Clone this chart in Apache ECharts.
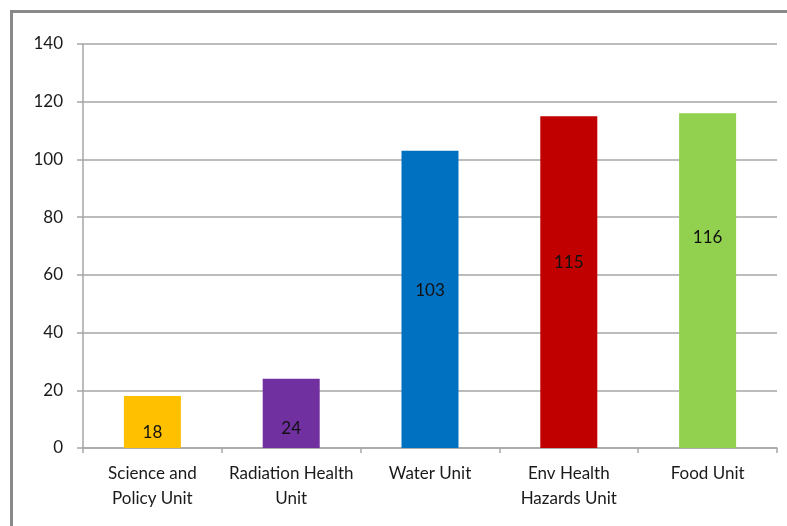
<!DOCTYPE html>
<html>
<head>
<meta charset="utf-8">
<script src="https://cdn.jsdelivr.net/npm/echarts@6/dist/echarts.min.js"></script>
<style>
  html, body { margin: 0; padding: 0; background: #fff; }
  #chart { width: 787px; height: 526px; }
</style>
</head>
<body>
<div id="chart"></div>
<script>
// Staff count per unit
const units = ['Science and\nPolicy Unit', 'Radiation Health\nUnit', 'Water Unit', 'Env Health\nHazards Unit', 'Food Unit'];
const staff = [18, 24, 103, 115, 116];
const barColors = ['#FFC000', '#7030A0', '#0070C0', '#C00000', '#92D050'];

// vertical nudge of each value label away from the bar's middle
const labelNudge = [10, 15, -9, -20, -43];

const FONT = 'Lato, "Open Sans", sans-serif';

const chart = echarts.init(document.getElementById('chart'), null, { renderer: 'canvas' });

chart.setOption({
  animation: false,
  backgroundColor: '#ffffff',
  graphic: [{
    type: 'rect',
    shape: { x: 11.5, y: 11.5, width: 800, height: 540 },
    style: { fill: 'none', stroke: '#898989', lineWidth: 3 },
    silent: true
  }],
  grid: { left: 83, top: 44, right: 10, bottom: 78, containLabel: false },
  xAxis: {
    type: 'category',
    data: units,
    axisLine: { lineStyle: { color: '#A6A6A6', width: 1.5 } },
    axisTick: { show: true, length: 5, alignWithLabel: false, lineStyle: { color: '#A6A6A6', width: 1.5 } },
    axisLabel: { color: '#1a1a1a', fontFamily: FONT, fontSize: 17, lineHeight: 25, margin: 13, interval: 0 }
  },
  yAxis: {
    type: 'value',
    min: 0, max: 140, interval: 20,
    axisLine: { show: true, lineStyle: { color: '#A6A6A6', width: 1.5 } },
    axisTick: { show: true, length: 6, lineStyle: { color: '#A6A6A6', width: 1.5 } },
    axisLabel: { color: '#1a1a1a', fontFamily: FONT, fontSize: 17, margin: 20 },
    splitLine: { show: true, lineStyle: { color: '#A6A6A6', width: 1.5 } }
  },
  series: [{
    type: 'bar',
    barWidth: 57,
    data: staff.map((v, i) => ({
      value: v,
      itemStyle: { color: barColors[i] },
      label: { offset: [0, labelNudge[i]] }
    })),
    label: {
      show: true,
      position: 'inside',
      color: '#111',
      fontFamily: FONT,
      fontSize: 17
    }
  }]
});
</script>
</body>
</html>
